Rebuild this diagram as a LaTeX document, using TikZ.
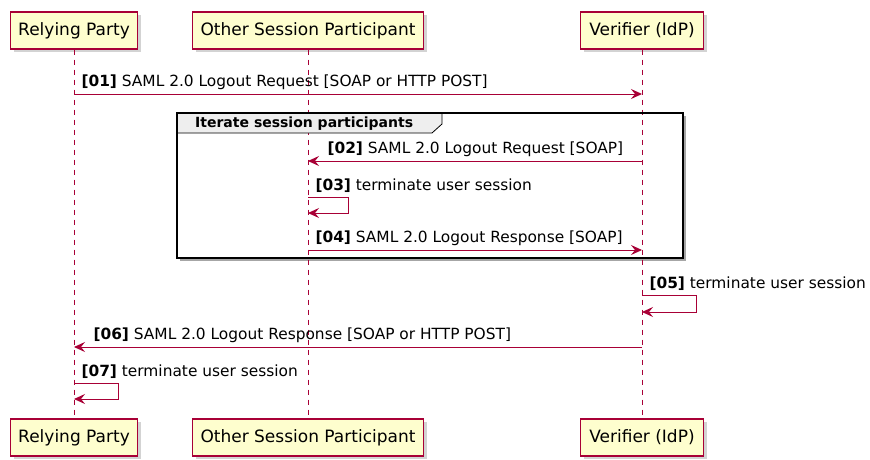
\documentclass[tikz,border=0pt]{standalone}
\usepackage{fontspec}
\setmainfont{DejaVu Sans}
\usetikzlibrary{arrows.meta,shadows,positioning}
\definecolor{umlred}{HTML}{A80036}
\definecolor{umlfill}{HTML}{FEFECE}
\definecolor{tabgray}{HTML}{EEEEEE}

\begin{document}
\begin{tikzpicture}[x=1pt,y=-1pt,
    party/.style={draw=umlred,fill=umlfill,line width=1.2pt,minimum height=37pt,inner sep=0pt,
        font=\fontsize{17}{19}\selectfont,drop shadow={shadow xshift=3pt,shadow yshift=-3pt,opacity=0.35}},
    life/.style={umlred,dashed,dash pattern=on 5pt off 5pt,line width=0.8pt},
    msg/.style={umlred,line width=1pt,-{Stealth[length=11pt,width=10pt,inset=4pt]}},
    lbl/.style={black,anchor=south west,inner sep=0pt,xshift=7pt,yshift=4pt,font=\fontsize{15.4}{17}\selectfont},
    lbll/.style={lbl,xshift=12pt}]
    \useasboundingbox (0,0) rectangle (870,459);

    % participants
    \node[party,minimum width=127pt] (rp) at (74,30.5) {Relying Party};
    \node[party,minimum width=231pt] (osp) at (308,30.5) {Other Session Participant};
    \node[party,minimum width=123pt] (vf) at (642,30.5) {Verifier (IdP)};
    \node[party,minimum width=127pt] (rpb) at (74,437.5) {Relying Party};
    \node[party,minimum width=231pt] (ospb) at (308,437.5) {Other Session Participant};
    \node[party,minimum width=123pt] (vfb) at (642,437.5) {Verifier (IdP)};

    % group frame
    \fill[black!35] (180,116) rectangle (686,261);
    \fill[white] (177,113) rectangle (683,258);

    % lifelines
    \draw[life] (rp) -- (rpb);
    \draw[life] (osp) -- (ospb);
    \draw[life] (vf) -- (vfb);

    \draw[fill=tabgray,line width=0.8pt] (177,113) -- (442,113) -- (442,124) -- (432,133) -- (177,133) -- cycle;
    \node[anchor=west,inner sep=0pt,font=\fontsize{14}{16}\selectfont\bfseries] (grp) at (195,123.5) {Iterate session participants};
    \draw[line width=1.8pt] (177,113) rectangle (683,258);

    % message rows
    \coordinate (r1) at (0,94);
    \coordinate (r2) at (0,161);
    \coordinate (r3) at (0,197);
    \coordinate (r4) at (0,250);
    \coordinate (r5) at (0,295);
    \coordinate (r6) at (0,347);
    \coordinate (r7) at (0,383);

    \draw[msg] (rp |- r1) node[lbl]{\textbf{[01]} SAML 2.0 Logout Request [SOAP or HTTP POST]} -- (vf |- r1);
    \draw[msg] (vf |- r2) -- (osp |- r2) node[lbll]{\textbf{[02]} SAML 2.0 Logout Request [SOAP]};
    \draw[msg] (osp |- r3) node[lbl]{\textbf{[03]} terminate user session} -- ++(40,0) -- ++(0,16) -- ++(-40,0);
    \draw[msg] (osp |- r4) node[lbl]{\textbf{[04]} SAML 2.0 Logout Response [SOAP]} -- (vf |- r4);
    \draw[msg] (vf |- r5) node[lbl]{\textbf{[05]} terminate user session} -- ++(54,0) -- ++(0,17) -- ++(-54,0);
    \draw[msg] (vf |- r6) -- (rp |- r6) node[lbll]{\textbf{[06]} SAML 2.0 Logout Response [SOAP or HTTP POST]};
    \draw[msg] (rp |- r7) node[lbl]{\textbf{[07]} terminate user session} -- ++(44,0) -- ++(0,16) -- ++(-44,0);
\end{tikzpicture}
\end{document}
